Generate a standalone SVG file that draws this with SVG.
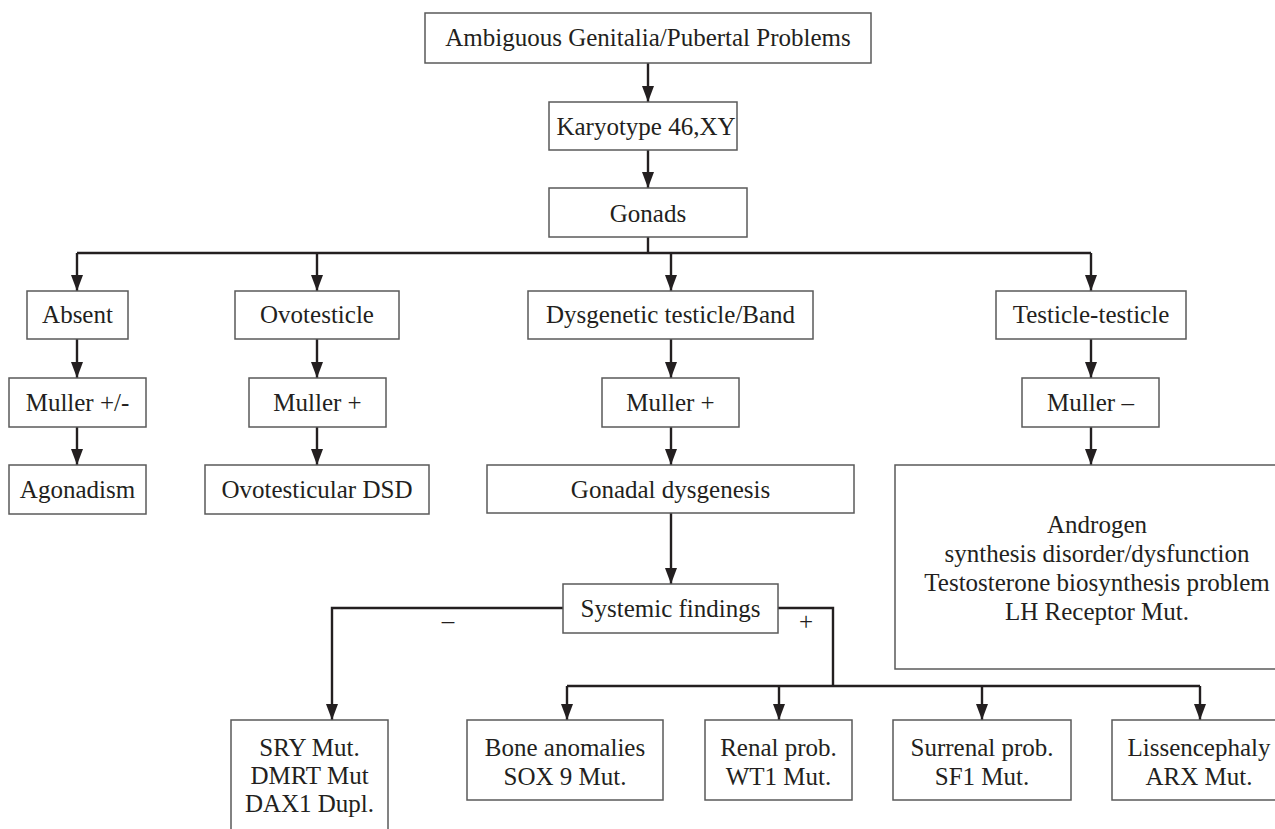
<svg xmlns="http://www.w3.org/2000/svg" width="1275" height="829" viewBox="0 0 1275 829">
<defs>
<marker id="ah" markerUnits="userSpaceOnUse" markerWidth="16" markerHeight="12" refX="16" refY="6" orient="auto">
<path d="M0,0 L16,6 L0,12 z" fill="#231f20"/>
</marker>
<style>
.box{fill:#fff;stroke:#5a5a5a;stroke-width:1.5}
.t{font-family:'Liberation Serif','DejaVu Serif',serif;font-size:25px;fill:#231f20;text-anchor:middle}
.c{fill:none;stroke:#231f20;stroke-width:2.4}
.a{fill:none;stroke:#231f20;stroke-width:2.4;marker-end:url(#ah)}
</style>
</defs>
<rect width="1275" height="829" fill="#fff"/>
<g id="connectors">
<path class="a" d="M648,63 V102"/>
<path class="a" d="M648,150 V188"/>
<path class="c" d="M648,237 V253"/>
<path class="c" d="M77,253 H1091"/>
<path class="a" d="M77,253 V291"/>
<path class="a" d="M317,253 V291"/>
<path class="a" d="M671,253 V291"/>
<path class="a" d="M1091,253 V291"/>
<path class="a" d="M77,339 V378"/>
<path class="a" d="M317,339 V378"/>
<path class="a" d="M671,339 V378"/>
<path class="a" d="M1091,339 V378"/>
<path class="a" d="M77,427 V465"/>
<path class="a" d="M317,427 V465"/>
<path class="a" d="M671,427 V465"/>
<path class="a" d="M1091,427 V465"/>
<path class="a" d="M671,513 V584"/>
<path class="a" d="M563,608 H332 V720"/>
<path class="c" d="M778,608 H833 V686"/>
<path class="c" d="M567,686 H1200"/>
<path class="a" d="M567,686 V720"/>
<path class="a" d="M779,686 V720"/>
<path class="a" d="M982,686 V720"/>
<path class="a" d="M1200,686 V720"/>
<text class="t" font-family="Liberation Serif, serif" x="448" y="629">–</text>
<text class="t" font-family="Liberation Serif, serif" x="806" y="630">+</text>
</g>
<g id="n-top"><rect class="box" x="425" y="13" width="446" height="50"/><text class="t" x="648" y="46">Ambiguous Genitalia/Pubertal Problems</text></g>
<g id="n-karyotype"><rect class="box" x="549" y="102" width="188" height="48"/><text class="t" x="646" y="135">Karyotype 46,XY</text></g>
<g id="n-gonads"><rect class="box" x="549" y="188" width="198" height="49"/><text class="t" x="648" y="222">Gonads</text></g>
<g id="n-absent"><rect class="box" x="27" y="291" width="101" height="48"/><text class="t" x="77.5" y="323">Absent</text></g>
<g id="n-ovotesticle"><rect class="box" x="235" y="291" width="164" height="48"/><text class="t" x="317" y="323">Ovotesticle</text></g>
<g id="n-dysgenetic"><rect class="box" x="528" y="291" width="285" height="48"/><text class="t" x="670.5" y="323">Dysgenetic testicle/Band</text></g>
<g id="n-testicle"><rect class="box" x="996" y="291" width="190" height="48"/><text class="t" x="1091" y="323">Testicle-testicle</text></g>
<g id="n-muller1"><rect class="box" x="9" y="378" width="137" height="49"/><text class="t" x="77.5" y="411">Muller +/-</text></g>
<g id="n-muller2"><rect class="box" x="249" y="378" width="137" height="49"/><text class="t" x="317.5" y="411">Muller +</text></g>
<g id="n-muller3"><rect class="box" x="602" y="378" width="137" height="49"/><text class="t" x="670.5" y="411">Muller +</text></g>
<g id="n-muller4"><rect class="box" x="1022" y="378" width="137" height="49"/><text class="t" x="1090.5" y="411">Muller –</text></g>
<g id="n-agonadism"><rect class="box" x="9" y="465" width="137" height="49"/><text class="t" x="77.5" y="498">Agonadism</text></g>
<g id="n-ovodsd"><rect class="box" x="205" y="465" width="224" height="49"/><text class="t" x="317" y="498">Ovotesticular DSD</text></g>
<g id="n-gonadal"><rect class="box" x="487" y="465" width="367" height="48"/><text class="t" x="670.5" y="498">Gonadal dysgenesis</text></g>
<g id="n-androgen"><rect class="box" x="895" y="465" width="404" height="204"/>
<text class="t" x="1097" y="533">Androgen</text>
<text class="t" x="1097" y="562">synthesis disorder/dysfunction</text>
<text class="t" x="1097" y="591">Testosterone biosynthesis problem</text>
<text class="t" x="1097" y="620">LH Receptor Mut.</text></g>
<g id="n-systemic"><rect class="box" x="563" y="584" width="215" height="49"/><text class="t" x="670.5" y="617">Systemic findings</text></g>
<g id="n-sry"><rect class="box" x="231" y="720" width="157" height="130"/>
<text class="t" x="309.5" y="756">SRY Mut.</text>
<text class="t" x="309.5" y="784">DMRT Mut</text>
<text class="t" x="309.5" y="812">DAX1 Dupl.</text></g>
<g id="n-bone"><rect class="box" x="467" y="720" width="196" height="80"/>
<text class="t" x="565" y="756">Bone anomalies</text>
<text class="t" x="565" y="785">SOX 9 Mut.</text></g>
<g id="n-renal"><rect class="box" x="705" y="720" width="147" height="80"/>
<text class="t" x="778.5" y="756">Renal prob.</text>
<text class="t" x="778.5" y="785">WT1 Mut.</text></g>
<g id="n-surrenal"><rect class="box" x="893" y="720" width="178" height="80"/>
<text class="t" x="982" y="756">Surrenal prob.</text>
<text class="t" x="982" y="785">SF1 Mut.</text></g>
<g id="n-lissencephaly"><rect class="box" x="1112" y="720" width="176" height="80"/>
<text class="t" x="1199" y="756">Lissencephaly</text>
<text class="t" x="1199" y="785">ARX Mut.</text></g>
</svg>
